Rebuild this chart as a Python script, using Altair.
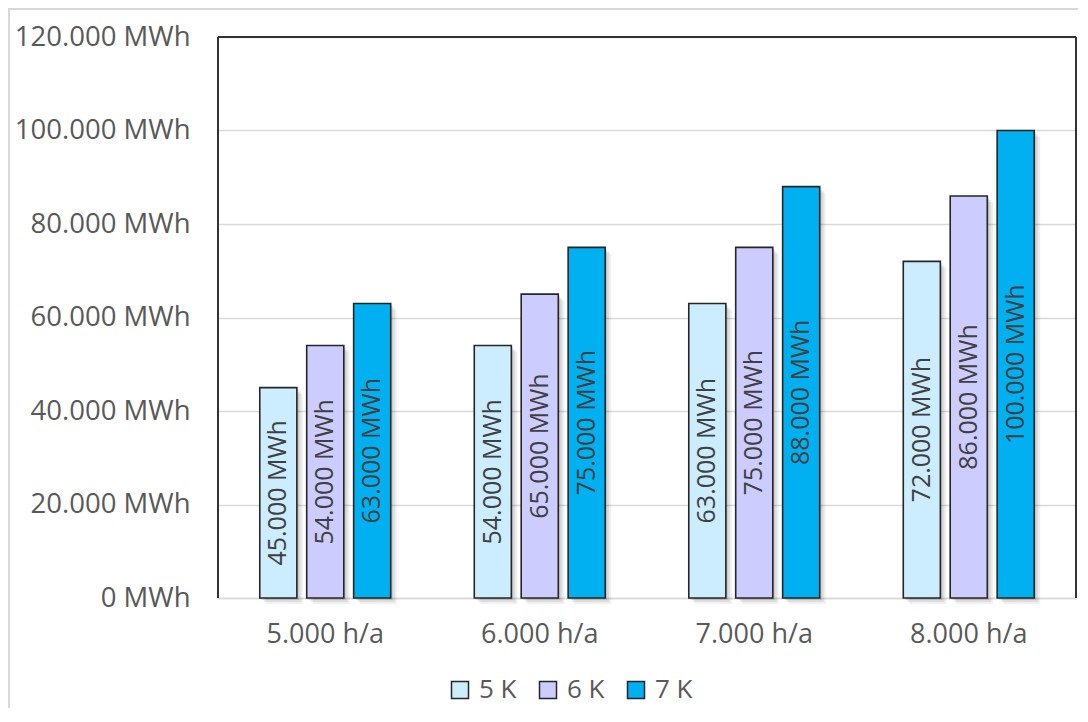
import altair as alt
import pandas as pd

categories = ["5.000 h/a", "6.000 h/a", "7.000 h/a", "8.000 h/a"]
series = ["5 K", "6 K", "7 K"]
values_5k = [45000, 54000, 63000, 72000]
values_6k = [54000, 65000, 75000, 86000]
values_7k = [63000, 75000, 88000, 100000]
colors = ["#CCECFF", "#CCCCFF", "#00B0F0"]
y_ticks = [0, 20000, 40000, 60000, 80000, 100000, 120000]

rows = []
for s, vals in zip(series, [values_5k, values_6k, values_7k]):
    for c, v in zip(categories, vals):
        rows.append({"cat": c, "series": s, "value": v,
                     "label": f"{v:,}".replace(",", ".") + " MWh"})
df = pd.DataFrame(rows)

W, H = 858, 561
PI, PO = 0.21, 0.89

xenc = alt.X("cat:N", sort=categories,
             scale=alt.Scale(paddingInner=0, paddingOuter=0),
             axis=alt.Axis(title=None, labelAngle=0, ticks=False, domain=True,
                           domainColor="#D9D9D9", domainWidth=1.5,
                           labelFontSize=27, labelColor="#595959", labelPadding=23))

yenc = alt.Y("value:Q", scale=alt.Scale(domain=[0, 120000], nice=False),
             axis=alt.Axis(title=None, values=y_ticks, ticks=False, domain=False,
                           grid=True, gridColor="#D9D9D9", gridWidth=1.5,
                           labelFontSize=27.5, labelColor="#595959", labelPadding=28,
                           labelExpr="replace(format(datum.value, ','), ',', '.') + ' MWh'"))

step = (W / 4) / (3 - PI + 2 * PO)
outer_total = 2 * PO * step


def shadow(shift, op):
    return alt.Chart(df).mark_bar(color="#000000", opacity=op, yOffset=shift,
                                  y2Offset=0).encode(
        x=xenc,
        xOffset=alt.XOffset("series:N", sort=series,
                            scale=alt.Scale(paddingInner=PI, paddingOuter=PO,
                                            align=0.5 + shift / outer_total)),
        y=yenc,
    )


bars = alt.Chart(df).mark_bar(stroke="#262626", strokeWidth=1.6).encode(
    x=xenc,
    xOffset=alt.XOffset("series:N", sort=series,
                        scale=alt.Scale(paddingInner=PI, paddingOuter=PO)),
    y=yenc,
    color=alt.Color("series:N", sort=series,
                    scale=alt.Scale(domain=series, range=colors),
                    legend=alt.Legend(title=None, orient="none", direction="horizontal",
                                      legendX=229, legendY=640,
                                      symbolType="square", symbolSize=289,
                                      symbolStrokeColor="#262626", symbolStrokeWidth=1.5,
                                      labelFontSize=26, labelColor="#595959",
                                      labelOffset=6, columnPadding=18)),
)

labels = alt.Chart(df).transform_calculate(mid="datum.value / 2").mark_text(
    angle=270, align="center", baseline="middle", fontSize=25, color="#404040"
).encode(
    x=xenc,
    xOffset=alt.XOffset("series:N", sort=series,
                        scale=alt.Scale(paddingInner=PI, paddingOuter=PO)),
    y=alt.Y("mid:Q"), text="label:N")

frame_left = alt.Chart(df).mark_rule(color="#333333", strokeWidth=2).encode(
    x=alt.value(0), y=alt.value(0), y2=alt.value(H))
frame_top = alt.Chart(df).mark_rule(color="#333333", strokeWidth=2).encode(
    x=alt.value(0), x2=alt.value(W), y=alt.value(0))
frame_right = alt.Chart(df).mark_rule(color="#333333", strokeWidth=2).encode(
    x=alt.value(W), y=alt.value(0), y2=alt.value(H))
outer_left = alt.Chart(df).mark_rule(color="#D9D9D9", strokeWidth=2).encode(
    x=alt.value(-209), y=alt.value(-29), y2=alt.value(700))
outer_top = alt.Chart(df).mark_rule(color="#D9D9D9", strokeWidth=2).encode(
    x=alt.value(-210), x2=alt.value(900), y=alt.value(-28))

sh_layer = alt.layer(shadow(2, 0.10), shadow(4, 0.08), shadow(6, 0.06)).resolve_scale(
    xOffset="independent")
main_layer = alt.layer(bars, labels)

chart = alt.layer(sh_layer, main_layer, frame_left, frame_top, frame_right,
                  outer_left, outer_top).resolve_scale(xOffset="independent").properties(
    width=W, height=H,
    autosize=alt.AutoSizeParams(type="none"),
    padding={"left": 210, "top": 29, "right": 2, "bottom": 110},
).configure(font="Open Sans").configure_view(stroke=None)

chart.save("out.html", embed_options={"renderer": "svg", "actions": False})
